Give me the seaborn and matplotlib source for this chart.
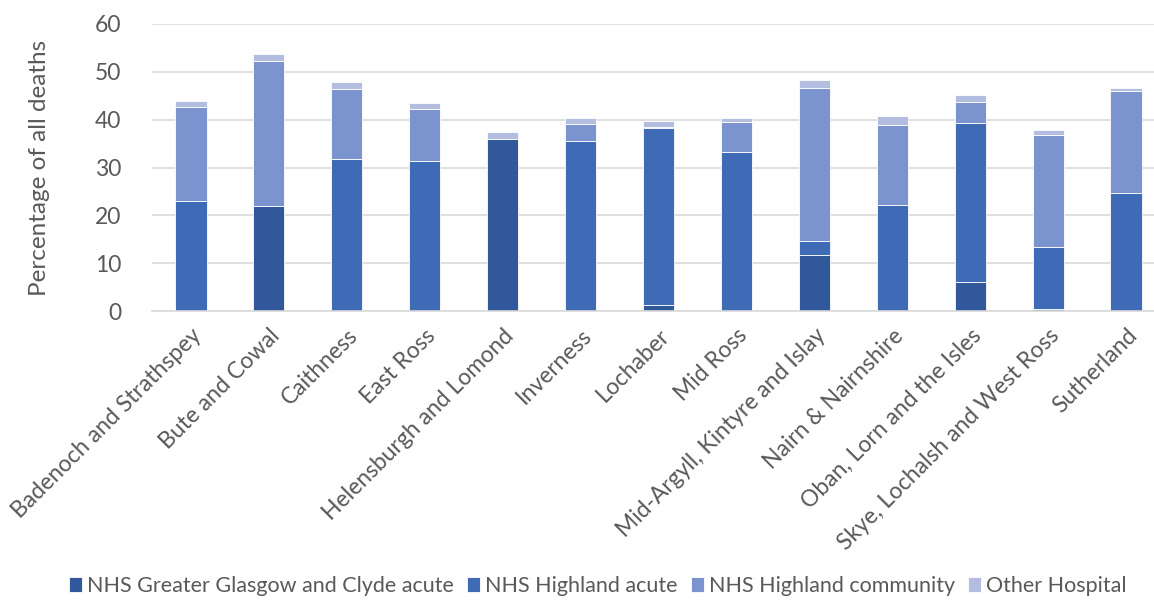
import numpy as np
import pandas as pd
import seaborn as sns
import matplotlib.pyplot as plt

areas = ["Badenoch and Strathspey", "Bute and Cowal", "Caithness", "East Ross",
         "Helensburgh and Lomond", "Inverness", "Lochaber", "Mid Ross",
         "Mid-Argyll, Kintyre and Islay", "Nairn & Nairnshire",
         "Oban, Lorn and the Isles", "Skye, Lochalsh and West Ross", "Sutherland"]

ggc_acute = [0.0, 22.0, 0.0, 0.0, 35.9, 0.0, 1.2, 0.0, 11.8, 0.0, 6.0, 0.4, 0.0]
highland_acute = [23.1, 0.0, 31.8, 31.4, 0.0, 35.6, 37.1, 33.2, 2.8, 22.2, 33.4, 13.0, 24.7]
highland_community = [19.6, 30.3, 14.7, 10.9, 0.0, 3.5, 0.2, 6.3, 32.1, 16.7, 4.2, 23.3, 21.2]
other_hospital = [1.2, 1.4, 1.4, 1.1, 1.5, 1.3, 1.3, 0.8, 1.5, 1.8, 1.6, 1.1, 0.7]

series = {
    "NHS Greater Glasgow and Clyde acute": ggc_acute,
    "NHS Highland acute": highland_acute,
    "NHS Highland community": highland_community,
    "Other Hospital": other_hospital,
}
colors = ["#31589A", "#3E6AB6", "#7B93CE", "#B2BDE0"]

sns.set_style("white")
plt.rcParams["font.family"] = ["Lato", "DejaVu Sans"]
grey = "#595959"

fig = plt.figure(figsize=(11.54, 6), dpi=100)
ax = fig.add_axes([152 / 1154, 1 - 311 / 600, 1013 / 1154, (311 - 24) / 600])

bottom = np.zeros(len(areas))
for (name, vals), col in zip(series.items(), colors):
    df = pd.DataFrame({"area": areas, "value": vals})
    sns.barplot(data=df, x="area", y="value", color=col, width=0.4,
                bottom=bottom, ax=ax, label=name, saturation=1,
                edgecolor="white", linewidth=0.6)
    bottom = bottom + np.array(vals)

ax.set_ylim(0, 60)
ax.set_xlim(-0.5, len(areas) - 0.5)
ax.set_yticks(range(0, 61, 10))
ax.yaxis.grid(True, color="#D9D9D9", linewidth=1.2)
ax.set_axisbelow(True)
for s in ["top", "right", "left"]:
    ax.spines[s].set_visible(False)
ax.spines["bottom"].set_color("#D9D9D9")
ax.spines["bottom"].set_linewidth(1.2)
ax.tick_params(axis="y", length=0, labelsize=16.5, colors=grey, pad=22)
ax.tick_params(axis="x", length=0, labelsize=16.5, colors=grey, pad=10)
ax.set_xticks(range(len(areas)))
ax.set_xticklabels(areas, rotation=45, ha="right", rotation_mode="anchor")
ax.set_xlabel("")
ax.set_ylabel("Percentage of all deaths", fontsize=17.5, color=grey, labelpad=32)

ax.legend(loc="lower center", bbox_to_anchor=(598 / 1154, 0.006), bbox_transform=fig.transFigure,
          ncol=4, frameon=False, fontsize=15.5, handlelength=0.6, handleheight=0.7,
          handletextpad=0.25, columnspacing=0.6, labelcolor=grey, borderpad=0,
          borderaxespad=0)

fig.savefig("out.png", dpi=100)
